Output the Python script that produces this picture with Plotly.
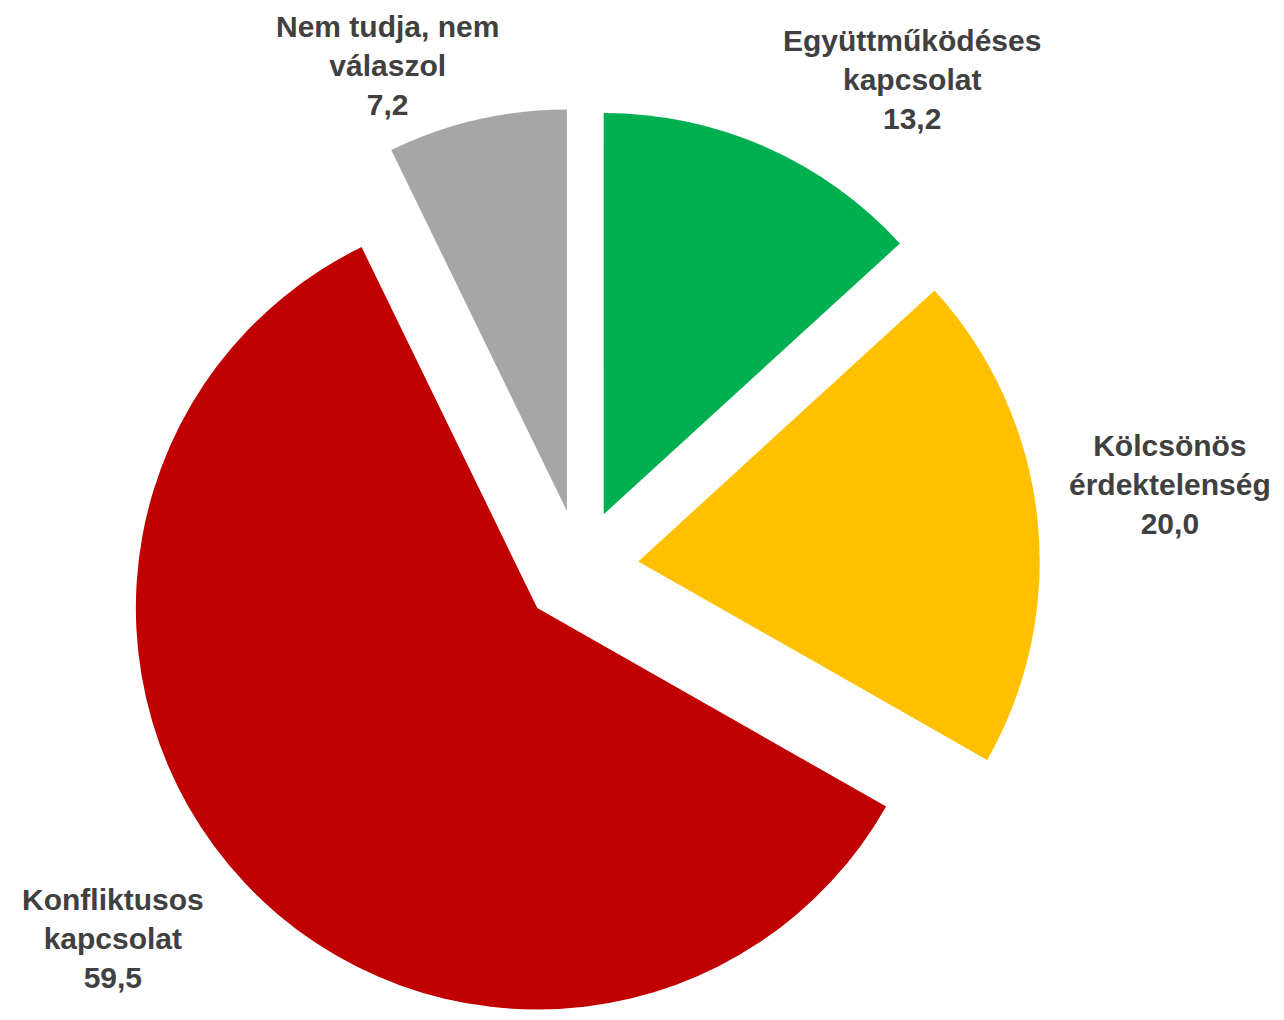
import plotly.graph_objects as go

# survey answers, percent
categories = [
    "Együttműködéses<br>kapcsolat",
    "Kölcsönös<br>érdektelenség",
    "Konfliktusos<br>kapcsolat",
    "Nem tudja, nem<br>válaszol",
]
values = [13.2, 20.0, 59.5, 7.2]
colors = ["#00B050", "#FFC000", "#C00000", "#A6A6A6"]

# where Excel had put the data labels (pixel centres, page offset already taken off)
label_pos = [(904, 72), (1162, 476), (105, 930), (380, 57)]

W, H = 1284, 1020

fig = go.Figure(
    go.Pie(
        labels=categories,
        values=values,
        marker=dict(colors=colors, line=dict(width=0)),
        sort=False,
        direction="clockwise",
        rotation=0,
        pull=[0.146] * len(values),
        textinfo="none",
        hoverinfo="label+value",
        domain=dict(x=[0.0872, 0.8038], y=[0.0, 0.902]),
    )
)

for cat, val, (px_, py_) in zip(categories, values, label_pos):
    fig.add_annotation(
        x=px_ / W,
        y=1 - py_ / H,
        xref="paper",
        yref="paper",
        xanchor="center",
        yanchor="middle",
        showarrow=False,
        align="center",
        text="<b>" + cat + "<br>" + f"{val:.1f}".replace(".", ",") + "</b>",
        font=dict(family="Liberation Sans, Arial, sans-serif", size=30, color="#404040"),
    )

fig.update_layout(
    width=W,
    height=H,
    showlegend=False,
    margin=dict(l=0, r=0, t=0, b=0),
    paper_bgcolor="white",
    plot_bgcolor="white",
)

fig.write_html("out.html")
